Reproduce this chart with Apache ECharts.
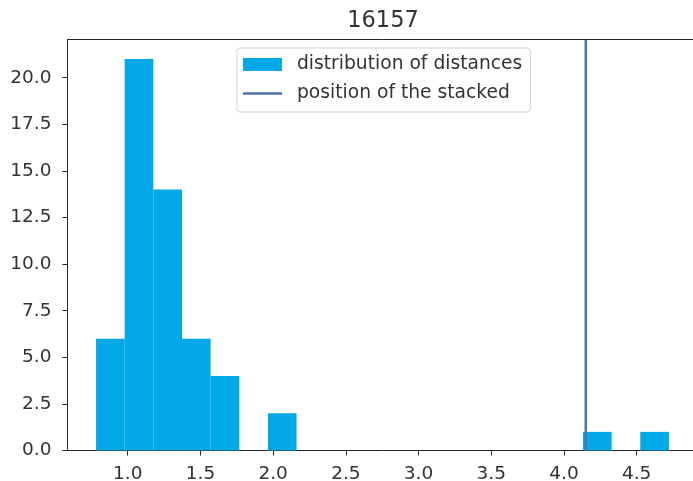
<!DOCTYPE html>
<html>
<head>
<meta charset="utf-8">
<script src="https://cdn.jsdelivr.net/npm/echarts@6/dist/echarts.min.js"></script>
<style>
html,body{margin:0;padding:0;overflow:hidden;background:#fff;}
#c{width:700px;height:481px;}
</style>
</head>
<body>
<div id="c"></div>
<script>
const titleText = '16157';
const binEdges = [0.782,0.979,1.176,1.373,1.570,1.767,1.964,2.161,2.358,2.555,2.752,2.949,3.146,3.343,3.540,3.737,3.934,4.131,4.328,4.525,4.722];
const binCounts = [6,21,14,6,4,0,2,0,0,0,0,0,0,0,0,0,0,1,0,1];
const stackedPosition = 4.15;
const xTicks = [1.0,1.5,2.0,2.5,3.0,3.5,4.0,4.5];
const histName = 'distribution of distances';
const lineName = 'position of the stacked';

const barColor = '#03A9E6';
const lineColor = '#4C72B0';
const textColor = '#333333';
const axisColor = '#262626';

const histData = [];
for (let i = 0; i < binCounts.length; i++) {
  if (binCounts[i] > 0) histData.push([binEdges[i], binEdges[i+1], binCounts[i]]);
}
const yMax = 22.05;
const font = 'DejaVu Sans';

const chart = echarts.init(document.getElementById('c'), null, {renderer:'canvas'});
chart.setOption({
  animation: false,
  backgroundColor: '#fff',
  title: {
    text: titleText, left: 378, top: 5, textAlign: 'center',
    textStyle: {fontFamily: font, fontSize: 22.5, fontWeight: 'normal', color: textColor}
  },
  grid: {left: 67.4, right: 2.4, top: 39.5, bottom: 30.5, containLabel: false, outerBoundsMode: 'none'},
  legend: {
    left: 237, top: 48, orient: 'vertical',
    padding: [7, 8, 9, 6],
    itemWidth: 39, itemHeight: 13, itemGap: 10,
    borderColor: '#d0d0d0', borderWidth: 1, borderRadius: 3,
    backgroundColor: 'rgba(255,255,255,0.8)',
    textStyle: {fontFamily: font, fontSize: 18.7, color: textColor, padding: [0,0,0,10], lineHeight: 18},
    data: [
      {name: histName, icon: 'rect'},
      {name: lineName, icon: 'path://M0,0H40V2.6H0Z', itemStyle: {color: lineColor}}
    ]
  },
  xAxis: [{
    type: 'value', min: 0.585, max: 4.919, position: 'bottom',
    splitLine: {show: false},
    axisLine: {show: true, onZero: false, lineStyle: {color: axisColor, width: 1}},
    axisTick: {show: true, length: 5, customValues: xTicks, lineStyle: {color: axisColor}},
    axisLabel: {show: true, customValues: xTicks, margin: 14, fontFamily: font, fontSize: 18.5, color: textColor,
      formatter: v => Number(v).toFixed(1)}
  }],
  yAxis: [{
    type: 'value', min: 0, max: yMax, interval: 2.5, position: 'left',
    splitLine: {show: false},
    axisLine: {show: true, onZero: false, lineStyle: {color: axisColor, width: 1}},
    axisTick: {show: true, length: 5, lineStyle: {color: axisColor}},
    axisLabel: {margin: 16, fontFamily: font, fontSize: 18.5, color: textColor,
      formatter: v => v > 22 ? '' : Number(v).toFixed(1), showMaxLabel: false}
  }],
  series: [{
    name: histName, type: 'custom',
    xAxisIndex: 0, yAxisIndex: 0,
    itemStyle: {color: barColor},
    encode: {x: [0, 1], y: 2},
    renderItem: function (params, api) {
      const p0 = api.coord([api.value(0), api.value(2)]);
      const p1 = api.coord([api.value(1), 0]);
      return {
        type: 'rect',
        shape: {x: p0[0], y: p0[1], width: p1[0] - p0[0], height: p1[1] - p0[1]},
        style: {fill: barColor}
      };
    },
    data: histData
  }, {
    name: lineName, type: 'line',
    xAxisIndex: 0, yAxisIndex: 0,
    symbol: 'none', showSymbol: false,
    lineStyle: {color: lineColor, width: 2.5},
    itemStyle: {color: lineColor},
    data: [[stackedPosition, 0], [stackedPosition, yMax]],
    markLine: {
      silent: true, symbol: ['none', 'none'], animation: false,
      label: {show: false},
      lineStyle: {color: axisColor, width: 1, type: 'solid'},
      emphasis: {disabled: true},
      data: [{yAxis: yMax}]
    }
  }]
});
</script>
</body>
</html>
